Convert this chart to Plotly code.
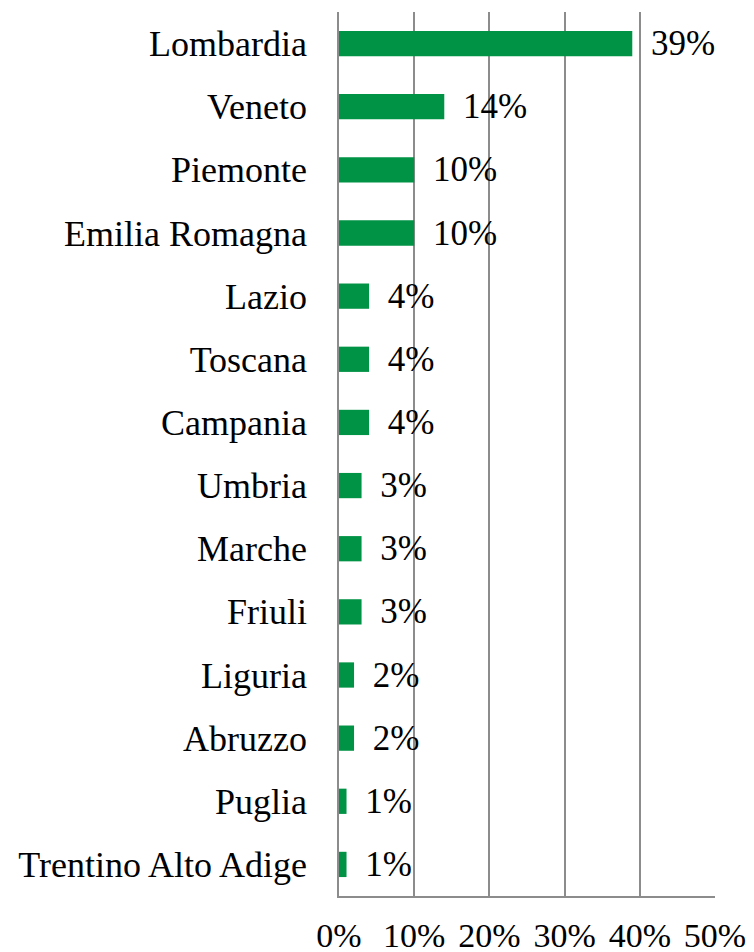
import plotly.graph_objects as go

regions = ["Lombardia", "Veneto", "Piemonte", "Emilia Romagna", "Lazio", "Toscana",
           "Campania", "Umbria", "Marche", "Friuli", "Liguria", "Abruzzo", "Puglia",
           "Trentino Alto Adige"]
shares = [39, 14, 10, 10, 4, 4, 4, 3, 3, 3, 2, 2, 1, 1]
x_ticks = [0, 10, 20, 30, 40, 50]
x_tick_labels = ["0%", "10%", "20%", "30%", "40%", "50%"]

FONT = "Liberation Serif"

fig = go.Figure(go.Bar(
    y=regions, x=shares, orientation="h",
    marker=dict(color="#009245", line=dict(width=0)),
    width=0.4,
    text=[f" \u2009{v}%" for v in shares],
    textposition="outside",
    constraintext="none",
    textfont=dict(family=FONT, size=35, color="#000"),
    cliponaxis=False,
))

fig.update_layout(
    width=754, height=952,
    margin=dict(l=331, r=47, t=4, b=64, autoexpand=False),
    plot_bgcolor="white", paper_bgcolor="white",
    showlegend=False,
    font=dict(family=FONT, size=35, color="#000"),
    bargap=0.6,
)
fig.update_xaxes(
    range=[0, 50], tickvals=x_ticks, ticktext=x_tick_labels,
    showgrid=True, gridcolor="#8c8c8c", gridwidth=1.5,
    showline=True, linecolor="#8c8c8c", linewidth=1.5,
    zeroline=False, ticks="", ticklabelstandoff=8,
    tickfont=dict(family=FONT, size=34, color="#000"),
)
fig.update_yaxes(
    autorange="reversed", showgrid=False,
    showline=True, linecolor="#8c8c8c", linewidth=1.5,
    ticks="", ticklabelstandoff=23,
    tickfont=dict(family=FONT, size=36, color="#000"),
)

fig.write_html("out.html")
